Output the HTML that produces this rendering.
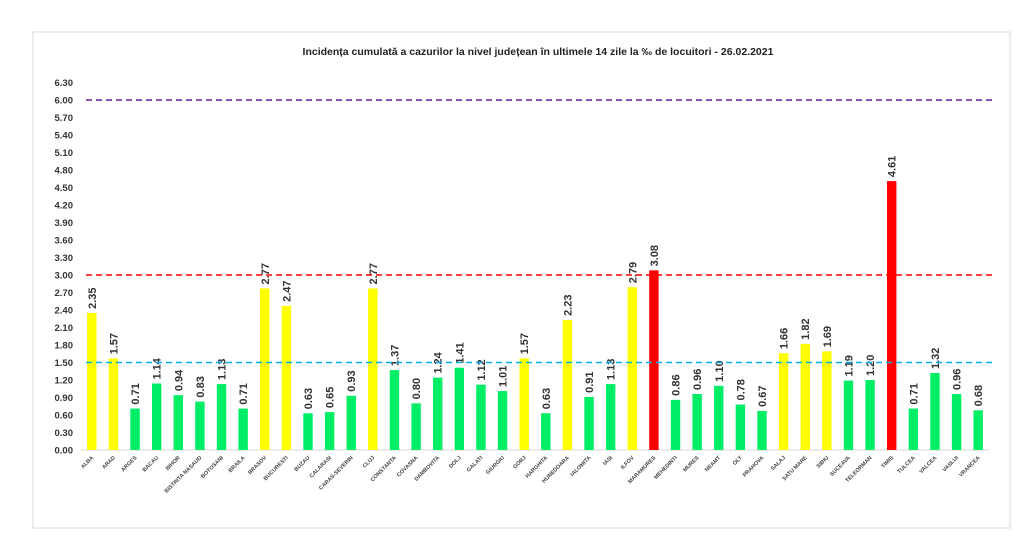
<!DOCTYPE html>
<html><head><meta charset="utf-8"><style>
body{margin:0;background:#fff;}
svg{display:block;font-family:"Liberation Sans",sans-serif;}
</style></head><body>
<svg id="c" width="1024" height="543">
<rect x="33" y="32" width="977" height="496" fill="#fff" stroke="#d9d9d9"/>
<text x="538" y="55" text-anchor="middle" font-size="10.5" font-weight="bold" fill="#222">Incidența cumulată a cazurilor la nivel județean în ultimele 14 zile   la ‰ de locuitori  - 26.02.2021</text>
<g id="g"></g>
</svg>
<script>
const categories=["ALBA","ARAD","ARGES","BACAU","BIHOR","BISTRITA NASAUD","BOTOSANI","BRAILA","BRASOV","BUCURESTI","BUZAU","CALARASI","CARAS-SEVERIN","CLUJ","CONSTANTA","COVASNA","DAMBOVITA","DOLJ","GALATI","GIURGIU","GORJ","HARGHITA","HUNEDOARA","IALOMITA","IASI","ILFOV","MARAMURES","MEHEDINTI","MURES","NEAMT","OLT","PRAHOVA","SALAJ","SATU MARE","SIBIU","SUCEAVA","TELEORMAN","TIMIS","TULCEA","VALCEA","VASLUI","VRANCEA"];
const values=[2.35,1.57,0.71,1.14,0.94,0.83,1.13,0.71,2.77,2.47,0.63,0.65,0.93,2.77,1.37,0.80,1.24,1.41,1.12,1.01,1.57,0.63,2.23,0.91,1.13,2.79,3.08,0.86,0.96,1.10,0.78,0.67,1.66,1.82,1.69,1.19,1.20,4.61,0.71,1.32,0.96,0.68];
const thresholds=[6.0,3.0,1.5];
const thresholdColors=["#7030a0","#ff0000","#00b0f0"];
const yTicks=[0,0.3,0.6,0.9,1.2,1.5,1.8,2.1,2.4,2.7,3.0,3.3,3.6,3.9,4.2,4.5,4.8,5.1,5.4,5.7,6.0,6.3];
const NS="http://www.w3.org/2000/svg";
const g=document.getElementById('g');
const x0=81,x1=989,y0=450,pxPerUnit=58.33;
const band=(x1-x0)/categories.length;
const yS=v=>y0-v*pxPerUnit;
const xC=i=>x0+band*(i+0.5);
function mk(t,a){const e=document.createElementNS(NS,t);for(const k in a)e.setAttribute(k,a[k]);g.appendChild(e);return e;}
yTicks.forEach(v=>{
 const t=mk('text',{x:73,y:yS(v)+3.5,'text-anchor':'end','font-size':'9.5','font-weight':'bold',fill:'#333'});
 t.textContent=v.toFixed(2);
 
 
});
const ax=mk('line',{x1:x0,x2:x1,y1:y0,y2:y0,stroke:'#d9d9d9'});


values.forEach((v,i)=>{
 const col=v>=3?'#ff0000':(v>=1.5?'#ffff00':'#00ee66');
 const r=mk('rect',{x:xC(i)-4.7,y:yS(v),width:9.4,height:v*pxPerUnit,fill:col});
 
 
 const lx=xC(i)+4,ly=yS(v)-4;
 const t=mk('text',{x:lx,y:ly,transform:`rotate(-90 ${lx} ${ly})`,'font-size':'11','font-weight':'bold',fill:'#333'});
 t.textContent=v.toFixed(2);
 
 
 const cx=xC(i)+2,cy=y0+8;
 const c=mk('text',{x:cx,y:cy,transform:`rotate(-45 ${cx} ${cy})`,'text-anchor':'end','font-size':'5.5','font-weight':'bold',fill:'#444'});
 c.textContent=categories[i];
 
 
});
thresholds.forEach((v,i)=>{
 const l=mk('line',{x1:x0+5,x2:x1+3,y1:yS(v),y2:yS(v),stroke:thresholdColors[i],'stroke-width':'1.6','stroke-dasharray':'6,4'});
 
 
});
</script>
</body></html>
